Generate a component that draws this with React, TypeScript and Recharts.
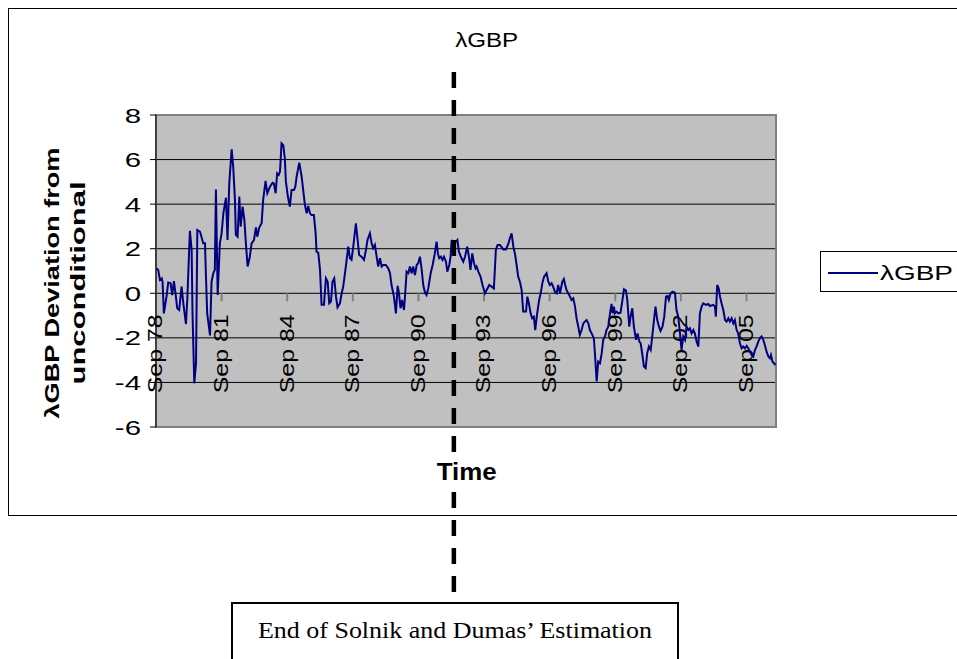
import React from 'react';
import {
  LineChart,
  Line,
  XAxis,
  YAxis,
  CartesianGrid,
  ReferenceLine,
  ReferenceArea,
  Legend,
} from 'recharts';

// ---------- text ----------
const seriesName = 'λGBP';
const chartTitle = 'λGBP';
const xAxisTitle = 'Time';
const yAxisTitleLines = ['λGBP Deviation from', 'unconditional'];
const noteText = 'End of Solnik and Dumas’ Estimation';

// ---------- axes ----------
const tickTimes = [1978.67, 1981.67, 1984.67, 1987.67, 1990.67, 1993.67, 1996.67, 1999.67, 2002.67, 2005.67];
const tickLabels = ['Sep 78', 'Sep 81', 'Sep 84', 'Sep 87', 'Sep 90', 'Sep 93', 'Sep 96', 'Sep 99', 'Sep 02', 'Sep 05'];
const yTicks = [-6, -4, -2, 0, 2, 4, 6, 8];
const xDomain = [1978.67, 2007.02];
const yDomain = [-6, 8];

// end of the Solnik & Dumas estimation window (vertical marker)
const estimationEnd = 1992.29;
const markerTop = 9.93;
const markerBottom = -13.4;

// ---------- series (time in decimal years, value) ----------
const timeValues = [
  1978.70, 1978.77, 1978.85, 1978.93, 1978.97, 1979.03, 1979.15, 1979.23, 1979.34, 1979.41,
  1979.49, 1979.58, 1979.64, 1979.73, 1979.84, 1979.92, 1980.04, 1980.10, 1980.22, 1980.30,
  1980.34, 1980.42, 1980.50, 1980.56, 1980.68, 1980.83, 1980.91, 1980.95, 1981.01, 1981.14,
  1981.21, 1981.29, 1981.36, 1981.41, 1981.49, 1981.59, 1981.67, 1981.75, 1981.87, 1981.94,
  1982.02, 1982.13, 1982.20, 1982.28, 1982.32, 1982.40, 1982.48, 1982.54, 1982.63, 1982.71,
  1982.78, 1982.86, 1982.96, 1983.04, 1983.15, 1983.24, 1983.30, 1983.39, 1983.50, 1983.57,
  1983.68, 1983.76, 1983.88, 1984.00, 1984.06, 1984.14, 1984.21, 1984.28, 1984.34, 1984.41,
  1984.49, 1984.56, 1984.61, 1984.70, 1984.79, 1984.87, 1984.98, 1985.04, 1985.10, 1985.22,
  1985.33, 1985.40, 1985.48, 1985.56, 1985.63, 1985.71, 1985.78, 1985.89, 1985.97, 1986.01,
  1986.09, 1986.17, 1986.24, 1986.35, 1986.44, 1986.52, 1986.59, 1986.67, 1986.74, 1986.82,
  1986.90, 1986.97, 1987.08, 1987.16, 1987.23, 1987.35, 1987.46, 1987.54, 1987.61, 1987.69,
  1987.81, 1987.89, 1987.96, 1988.07, 1988.18, 1988.27, 1988.34, 1988.45, 1988.53, 1988.60,
  1988.68, 1988.76, 1988.83, 1988.91, 1988.99, 1989.06, 1989.18, 1989.29, 1989.37, 1989.44,
  1989.55, 1989.64, 1989.72, 1989.78, 1989.85, 1989.92, 1990.01, 1990.07, 1990.13, 1990.21,
  1990.28, 1990.36, 1990.43, 1990.51, 1990.59, 1990.66, 1990.74, 1990.82, 1990.89, 1990.97,
  1991.04, 1991.12, 1991.23, 1991.32, 1991.42, 1991.50, 1991.56, 1991.62, 1991.70, 1991.77,
  1991.84, 1991.93, 1991.99, 1992.08, 1992.14, 1992.19, 1992.26, 1992.38, 1992.45, 1992.52,
  1992.61, 1992.72, 1992.80, 1992.90, 1992.98, 1993.05, 1993.13, 1993.21, 1993.28, 1993.33,
  1993.41, 1993.51, 1993.60, 1993.71, 1993.79, 1993.91, 1994.02, 1994.12, 1994.21, 1994.29,
  1994.40, 1994.55, 1994.67, 1994.78, 1994.85, 1994.93, 1995.01, 1995.08, 1995.16, 1995.23,
  1995.31, 1995.39, 1995.46, 1995.59, 1995.65, 1995.72, 1995.80, 1995.87, 1995.95, 1996.01,
  1996.10, 1996.19, 1996.26, 1996.35, 1996.42, 1996.53, 1996.61, 1996.68, 1996.76, 1996.83,
  1996.91, 1996.99, 1997.06, 1997.14, 1997.25, 1997.32, 1997.38, 1997.44, 1997.52, 1997.60,
  1997.67, 1997.75, 1997.83, 1997.90, 1997.98, 1998.05, 1998.13, 1998.21, 1998.28, 1998.36,
  1998.44, 1998.51, 1998.59, 1998.69, 1998.74, 1998.82, 1998.89, 1998.97, 1999.05, 1999.12,
  1999.20, 1999.27, 1999.35, 1999.43, 1999.50, 1999.55, 1999.61, 1999.65, 1999.73, 1999.81,
  1999.91, 2000.00, 2000.07, 2000.16, 2000.22, 2000.31, 2000.37, 2000.45, 2000.52, 2000.62,
  2000.69, 2000.77, 2000.83, 2000.90, 2000.98, 2001.06, 2001.13, 2001.21, 2001.29, 2001.36,
  2001.44, 2001.51, 2001.59, 2001.67, 2001.74, 2001.83, 2001.91, 2001.99, 2002.06, 2002.12,
  2002.20, 2002.29, 2002.40, 2002.47, 2002.55, 2002.63, 2002.70, 2002.78, 2002.86, 2002.93,
  2003.01, 2003.08, 2003.16, 2003.24, 2003.31, 2003.39, 2003.47, 2003.54, 2003.62, 2003.69,
  2003.82, 2003.92, 2004.00, 2004.15, 2004.23, 2004.27, 2004.33, 2004.40, 2004.46, 2004.53,
  2004.61, 2004.69, 2004.76, 2004.84, 2004.91, 2004.99, 2005.07, 2005.14, 2005.22, 2005.29,
  2005.37, 2005.45, 2005.52, 2005.60, 2005.68, 2005.75, 2005.83, 2005.90, 2005.98, 2006.06,
  2006.13, 2006.21, 2006.28, 2006.36, 2006.44, 2006.51, 2006.59, 2006.67, 2006.74, 2006.79,
  2006.86, 2006.93, 2007.00,
];

const gbpValues = [
  1.12, 1.05, 0.60, 0.67, 0.52, -0.90, -0.15, 0.48, 0.45, -0.08,
  0.55, -0.15, -0.67, -0.75, 0.30, -0.45, -1.38, -0.30, 2.80, 1.94,
  -0.90, -4.04, -3.14, 2.84, 2.77, 2.24, 2.24, 0.90, -0.90, -1.89,
  0.52, 0.90, 1.05, 4.66, -0.08, 2.24, 2.69, 3.59, 4.29, 2.39,
  4.93, 6.46, 5.68, 4.19, 2.62, 2.54, 4.34, 2.99, 3.89, 3.29,
  2.24, 1.20, 1.64, 2.24, 2.39, 2.96, 2.54, 2.95, 3.14, 4.19,
  5.04, 4.49, 4.78, 4.96, 4.93, 4.49, 5.38, 5.31, 5.46, 6.73,
  6.65, 6.06, 5.01, 4.34, 3.89, 4.64, 4.64, 4.78, 5.23, 5.86,
  5.23, 4.64, 3.96, 3.59, 3.92, 3.59, 3.51, 3.51, 2.69, 1.87,
  1.82, 1.05, -0.52, -0.52, 0.67, 0.52, -0.45, -0.37, 0.52, 0.67,
  -0.15, -0.63, -0.45, 0.00, 0.30, 1.20, 2.09, 1.57, 1.50, 2.09,
  3.14, 2.39, 1.72, 1.64, 1.50, 1.94, 2.39, 2.69, 2.24, 2.02,
  2.17, 1.64, 1.20, 1.57, 1.20, 1.27, 1.27, 1.12, 0.90, 0.37,
  -0.15, -0.90, 0.33, 0.00, -0.67, -0.30, -0.75, 0.07, 0.97, 0.90,
  1.20, 0.90, 1.20, 0.82, 1.27, 1.35, 1.64, 1.05, 0.37, 0.03,
  -0.08, 0.22, 0.90, 1.27, 1.79, 2.32, 1.79, 1.57, 1.64, 1.50,
  1.64, 1.42, 0.97, 1.27, 1.64, 2.39, 2.24, 2.32, 2.39, 1.87,
  1.64, 1.42, 1.64, 2.09, 1.64, 1.05, 1.79, 1.35, 1.12, 1.20,
  0.97, 0.75, 0.37, 0.00, 0.15, 0.37, 0.30, 0.22, 1.94, 2.17,
  2.17, 1.97, 1.97, 2.21, 2.47, 2.69, 2.09, 1.79, 1.27, 0.75,
  0.52, 0.15, -0.82, -0.82, -0.15, -0.45, -0.90, -1.12, -1.05, -1.65,
  -0.90, -0.30, 0.00, 0.52, 0.75, 0.90, 0.52, 0.37, 0.45, 0.30,
  0.07, 0.00, 0.37, 0.00, 0.52, 0.64, 0.37, 0.15, 0.00, -0.15,
  -0.30, -0.22, -0.60, -1.12, -1.50, -1.87, -1.65, -1.35, -1.27, -1.20,
  -1.35, -1.65, -1.80, -2.02, -2.69, -3.96, -3.07, -3.14, -2.69, -2.09,
  -1.94, -1.65, -1.50, -0.90, -0.48, -0.90, -0.60, -0.90, -0.82, -0.90,
  -0.87, -0.30, 0.18, 0.12, -0.30, -1.50, -1.05, -0.67, -1.50, -2.09,
  -1.80, -2.17, -2.24, -2.69, -3.29, -3.36, -2.69, -2.39, -2.54, -1.94,
  -1.20, -0.60, -1.20, -1.50, -1.69, -1.50, -1.05, -0.15, -0.12, -0.30,
  0.00, 0.07, 0.03, -0.75, -1.05, -1.80, -2.54, -1.94, -2.09, -1.50,
  -1.65, -1.57, -1.80, -1.65, -1.80, -2.17, -2.39, -0.90, -0.60, -0.45,
  -0.52, -0.48, -0.57, -0.52, -0.60, -1.05, 0.37, 0.22, -0.15, -0.45,
  -0.75, -1.20, -1.27, -1.12, -1.27, -1.12, -1.35, -1.20, -1.65, -1.80,
  -2.24, -2.47, -2.39, -2.47, -2.36, -2.47, -2.62, -2.77, -2.84, -2.54,
  -2.39, -2.17, -2.02, -1.94, -2.09, -2.32, -2.62, -2.84, -2.92, -2.77,
  -3.07, -3.14, -3.22,
];

const data = timeValues.map((t, i) => ({ t, gbp: gbpValues[i] }));

const SANS = '"Liberation Sans", Arial, sans-serif';
const SERIF = '"Liberation Serif", "Times New Roman", serif';

const PAGE_W = 957;
const PAGE_H = 659;
const INSET = 8;
const CHART_W = 949;
const CHART_H = 651;

const YTick = (props: any) => {
  const { x, y, payload } = props;
  return (
    <g transform={`translate(${x},${y})`}>
      <text
        transform="scale(1.4,1)"
        textAnchor="end"
        dy="0.36em"
        fontSize={21}
        fontFamily={SANS}
        fill="#000"
      >
        {payload.value}
      </text>
    </g>
  );
};

const YTitle = (props: any) => {
  const vb = props.viewBox || { x: 48, y: 107, width: 100, height: 312 };
  const cy = vb.y + vb.height / 2 + 12;
  const x1 = vb.x + 3;
  const x2 = vb.x + 29;
  return (
    <g>
      <text
        transform={`translate(${x1},${cy}) rotate(-90)`}
        textAnchor="middle"
        fontSize={21}
        fontWeight="bold"
        fontFamily={SANS}
        fill="#000"
        textLength={271}
        lengthAdjust="spacingAndGlyphs"
      >
        {yAxisTitleLines[0]}
      </text>
      <text
        transform={`translate(${x2},${cy}) rotate(-90)`}
        textAnchor="middle"
        fontSize={21}
        fontWeight="bold"
        fontFamily={SANS}
        fill="#000"
        textLength={203}
        lengthAdjust="spacingAndGlyphs"
      >
        {yAxisTitleLines[1]}
      </text>
    </g>
  );
};

const makeXTickLabel = (text: string) => (props: any) => {
  const vb = props.viewBox;
  if (!vb) return null;
  const x = vb.x + (vb.width || 0) / 2;
  const y = vb.y;
  return (
    <text
      transform={`translate(${x},${y + 21}) rotate(-90)`}
      textAnchor="end"
      dy="0.3em"
      fontSize={21}
      fontFamily={SANS}
      fill="#000"
      textLength={79}
      lengthAdjust="spacingAndGlyphs"
    >
      {text}
    </text>
  );
};

const renderLegend = () => (
  <div
    style={{
      width: 150,
      height: 41,
      border: '1px solid #000',
      background: '#fff',
      boxSizing: 'border-box',
    }}
  >
    <svg width={148} height={39} style={{ display: 'block' }}>
      <line x1={7} x2={57} y1={21} y2={21} stroke="#000080" strokeWidth={2} />
      <text
        x={59}
        y={28}
        fontSize={21}
        fontFamily={SANS}
        fill="#000"
        textLength={73}
        lengthAdjust="spacingAndGlyphs"
      >
        {seriesName}
      </text>
    </svg>
  </div>
);

export default function App() {
  return (
    <div
      style={{
        position: 'relative',
        width: PAGE_W,
        height: PAGE_H,
        overflow: 'hidden',
        fontFamily: SANS,
        background: '#fff',
      }}
    >
      <style>{'html,body{margin:0;padding:0;overflow:hidden;}'}</style>
      <div
        style={{
          position: 'absolute',
          left: INSET,
          top: INSET,
          width: CHART_W,
          height: CHART_H,
        }}
      >
        <div
          style={{
            position: 'absolute',
            left: 0,
            top: 0,
            width: 980,
            height: 508,
            border: '1px solid #000',
            boxSizing: 'border-box',
            background: '#fff',
          }}
        />
        <div style={{ position: 'absolute', left: 0, top: 0 }}>
          <LineChart
            width={CHART_W}
            height={CHART_H}
            data={data}
            margin={{ top: 107, right: 181, bottom: 232, left: 48 }}
          >
            <CartesianGrid
              horizontal={true}
              vertical={false}
              fill="#C0C0C0"
              stroke="#000"
              strokeWidth={1}
            />
            <XAxis
              type="number"
              dataKey="t"
              domain={xDomain}
              allowDataOverflow
              hide
            />
            <YAxis
              type="number"
              domain={yDomain}
              ticks={yTicks}
              interval={0}
              allowDataOverflow
              width={100}
              axisLine={{ stroke: '#000', strokeWidth: 1 }}
              tickLine={{ stroke: '#000', strokeWidth: 1 }}
              tickSize={6}
              tickMargin={9}
              tick={(p: any) => <YTick {...p} />}
              label={{ content: YTitle }}
            />
            <ReferenceArea
              x1={xDomain[0]}
              x2={xDomain[1]}
              y1={yDomain[0]}
              y2={yDomain[1]}
              fill="none"
              fillOpacity={0}
              stroke="#808080"
              strokeWidth={2}
              ifOverflow="visible"
            />
            {tickTimes.map((tv, i) => (
              <ReferenceLine
                key={tickLabels[i]}
                segment={[
                  { x: tv, y: 0 },
                  { x: tv, y: -0.36 },
                ]}
                stroke="#808080"
                strokeWidth={2}
                ifOverflow="visible"
                label={{ content: makeXTickLabel(tickLabels[i]) }}
              />
            ))}
            <Line
              type="linear"
              dataKey="gbp"
              name={seriesName}
              stroke="#000080"
              strokeWidth={2}
              dot={false}
              activeDot={false}
              isAnimationActive={false}
            />
            <ReferenceLine
              segment={[
                { x: estimationEnd, y: markerTop },
                { x: estimationEnd, y: markerBottom },
              ]}
              stroke="#000"
              strokeWidth={4.5}
              strokeDasharray="16 12"
              ifOverflow="visible"
            />
            <Legend
              layout="horizontal"
              align="center"
              verticalAlign="middle"
              wrapperStyle={{ left: 812, top: 243, width: 150, height: 41 }}
              content={renderLegend}
            />
          </LineChart>
        </div>
        <svg
          width={CHART_W}
          height={CHART_H}
          style={{ position: 'absolute', left: 0, top: 0, pointerEvents: 'none', overflow: 'visible' }}
        >
          <text
            x={478.7}
            y={39.3}
            textAnchor="middle"
            fontSize={20}
            fontFamily={SANS}
            fill="#000"
            textLength={63}
            lengthAdjust="spacingAndGlyphs"
          >
            {chartTitle}
          </text>
          <rect x={428} y={452} width={62} height={24} fill="#fff" />
          <text
            x={458.7}
            y={472}
            textAnchor="middle"
            fontSize={24}
            fontWeight="bold"
            fontFamily={SANS}
            fill="#000"
            textLength={60}
            lengthAdjust="spacingAndGlyphs"
          >
            {xAxisTitle}
          </text>
          <rect x={224} y={595} width={446} height={80} fill="#fff" stroke="#000" strokeWidth={2} />
          <text
            x={447}
            y={630}
            textAnchor="middle"
            fontSize={24}
            fontFamily={SERIF}
            fill="#000"
            textLength={394}
            lengthAdjust="spacingAndGlyphs"
          >
            {noteText}
          </text>
        </svg>
      </div>
    </div>
  );
}
